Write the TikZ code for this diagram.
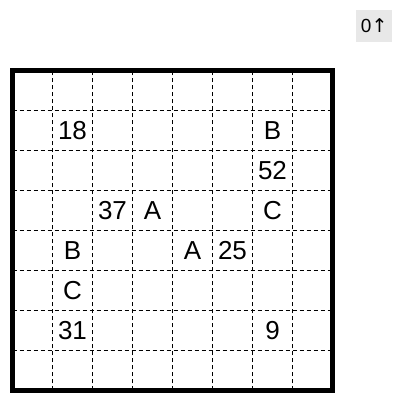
\documentclass[tikz,border=0pt]{standalone}
\usepackage{fontspec}
\setmainfont{Liberation Sans}
\newfontfamily\arrowfont{DejaVu Sans}
\usepackage{tikz}
\usetikzlibrary{calc}

\tikzset{
    cellnum/.style={font=\fontsize{18.5}{22}\selectfont, inner sep=0pt},
    gridline/.style={line width=1pt, dash pattern=on 0.1cm off 0.075cm},
    countbox/.style={fill=gray!18, minimum width=0.91cm, minimum height=0.8cm, inner sep=0pt, font=\fontsize{13.5}{15}\selectfont}
}

\begin{document}
\begin{tikzpicture}
            \useasboundingbox (0,0) rectangle (10.05,10.075);
            % Counter in the top right corner
            \node[countbox] (count) at (9.355,9.425) {0{\arrowfont ↑}};

            \begin{scope}[shift={(0.3125,0.3125)}]
                % Dashed inner lines of the grid
                \foreach \i in {1,...,7} {
                    \draw[gridline] (\i,0) -- (\i,8);
                    \draw[gridline] (0,\i) -- (8,\i);
                }
                % Outer frame
                \draw[line width=3.3pt] (0,0) rectangle (8,8);

                % Clues in the cells (column, row from the top)
                \node[cellnum] (n18) at (1.5,6.5) {18};
                \node[cellnum] (b1) at (6.5,6.5) {B};
                \node[cellnum] (n52) at (6.5,5.5) {52};
                \node[cellnum] (n37) at (2.5,4.5) {37};
                \node[cellnum] (a1) at (3.5,4.5) {A};
                \node[cellnum] (c1) at (6.5,4.5) {C};
                \node[cellnum] (b2) at (1.5,3.5) {B};
                \node[cellnum] (a2) at (4.5,3.5) {A};
                \node[cellnum] (n25) at (5.5,3.5) {25};
                \node[cellnum] (c2) at (1.5,2.5) {C};
                \node[cellnum] (n31) at (1.5,1.5) {31};
                \node[cellnum] (n9) at (6.5,1.5) {9};
            \end{scope}
        \end{tikzpicture}
\end{document}
